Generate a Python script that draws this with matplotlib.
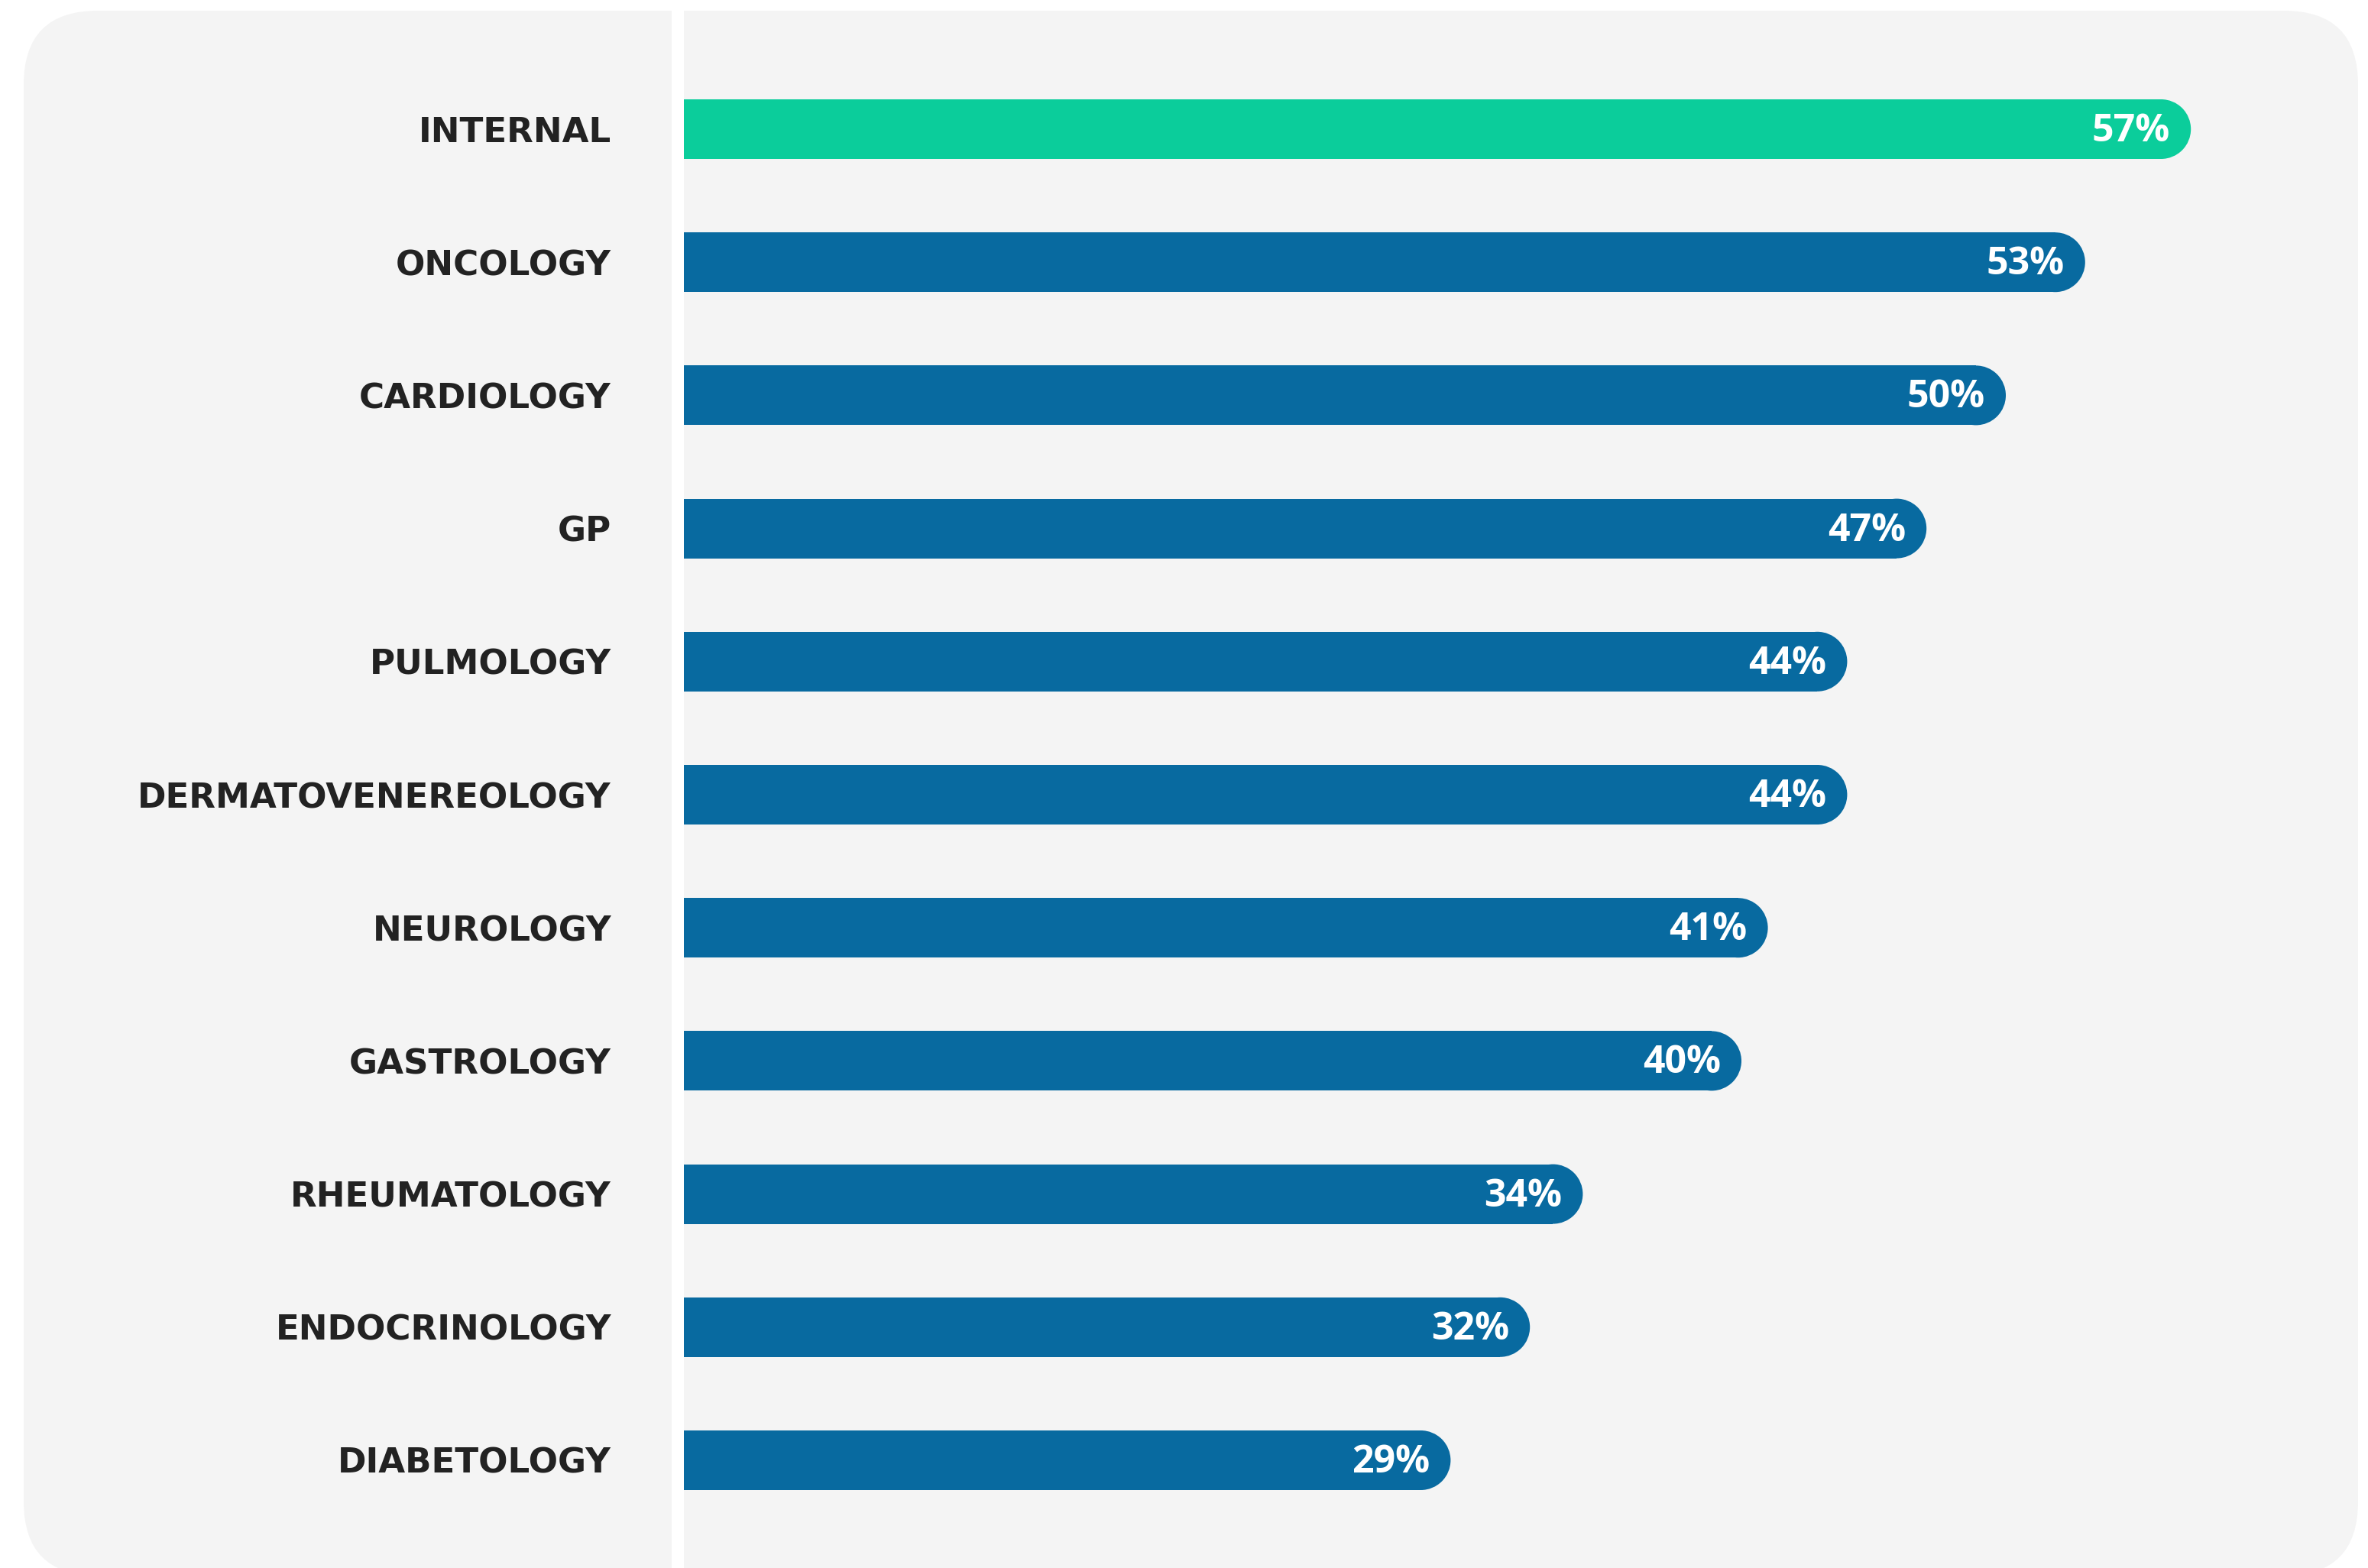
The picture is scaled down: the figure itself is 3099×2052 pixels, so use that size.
import matplotlib
matplotlib.use("Agg")
import matplotlib.pyplot as plt
from matplotlib.patches import FancyBboxPatch, Ellipse

# data, top to bottom
categories = [
    "INTERNAL", "ONCOLOGY", "CARDIOLOGY", "GP", "PULMOLOGY",
    "DERMATOVENEREOLOGY", "NEUROLOGY", "GASTROLOGY", "RHEUMATOLOGY",
    "ENDOCRINOLOGY", "DIABETOLOGY",
]
values = [57, 53, 50, 47, 44, 44, 41, 40, 34, 32, 29]
highlight = "INTERNAL"

GREEN = "#0bcd9b"
BLUE = "#086aa0"
PANEL = "#f4f4f4"
LABEL = "#222222"

W, H, DPI = 3099, 2052, 100
fig = plt.figure(figsize=(W / DPI, H / DPI), dpi=DPI, facecolor="white")

# rounded grey panel behind everything (figure fraction coords)
px, py = 31, -10
pw, ph = 3086 - 31, 2052 - 14 + 10
panel = FancyBboxPatch(
    (px / W, py / H), pw / W, ph / H,
    boxstyle=f"round,pad=0,rounding_size={97 / W}",
    mutation_aspect=W / H,
    transform=fig.transFigure, facecolor=PANEL, edgecolor="none", zorder=0,
)
fig.add_artist(panel)

# axes: x=0 sits at pixel 895, 34.6 px per percent
x0_px, px_per_pct = 895, 34.6
row0_px, row_px = 169, 174.2
ax = fig.add_axes([x0_px / W, 0, 1 - x0_px / W, 1], zorder=1)
ax.set_facecolor("none")
ax.set_xlim(0, (W - x0_px) / px_per_pct)
ax.set_ylim((H - row0_px) / row_px, -row0_px / row_px)
for s in ax.spines.values():
    s.set_visible(False)
ax.set_xticks([])

# white divider just left of bar origin
ax.axvline(-8 / px_per_pct, color="white", lw=16 * 72 / DPI, clip_on=False, zorder=2)

bar_h = 78 / row_px
r = (bar_h / 2) * row_px / px_per_pct  # cap radius in x units (circle in pixels)
colors = [GREEN if c == highlight else BLUE for c in categories]
ypos = list(range(len(categories)))
ax.barh(ypos, [v - r for v in values], height=bar_h, color=colors,
        edgecolor="none", zorder=3)
for i, (v, col) in enumerate(zip(values, colors)):
    ax.add_patch(Ellipse((v - r, i), 2 * r, bar_h, facecolor=col,
                         edgecolor="none", zorder=3))
    ax.annotate(f"{v}%", xy=(v, i), xytext=(-27, -3), textcoords="offset pixels",
                ha="right", va="center", color="white", fontsize=36,
                fontfamily="Open Sans", fontweight="bold", zorder=4)

ax.set_yticks(ypos)
ax.set_yticklabels(categories, fontfamily="DejaVu Sans", fontweight="bold",
                   fontsize=32.5, color=LABEL)
ax.tick_params(axis="y", length=0, pad=95 * 72 / DPI)

fig.savefig("out.png", dpi=DPI, facecolor="white")
